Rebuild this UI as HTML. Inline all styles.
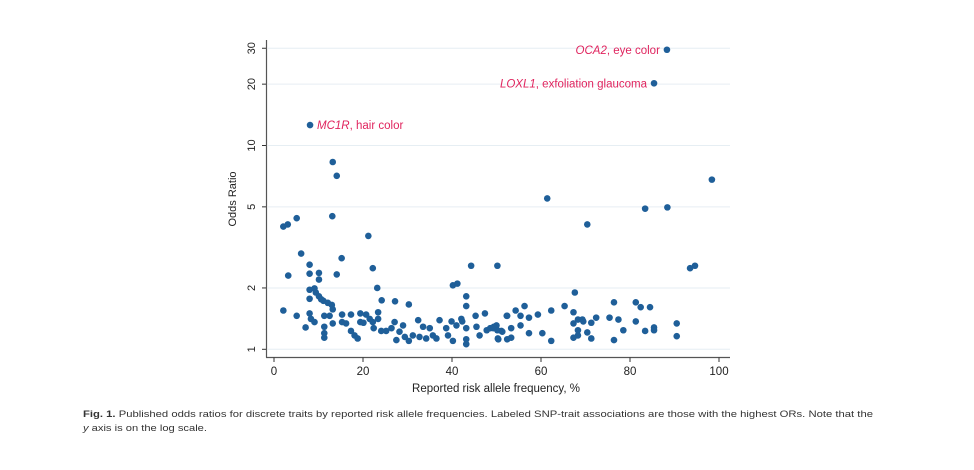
<!DOCTYPE html>
<html><head><meta charset="utf-8"><style>
html,body{margin:0;padding:0;background:#fff;}
svg{display:block;font-family:"Liberation Sans",sans-serif;}
</style></head><body>
<svg id="chart" width="974" height="470" viewBox="0 0 974 470" xmlns="http://www.w3.org/2000/svg">
<g id="grid"></g>
<g id="axes"></g>
<g id="points"></g>
<g id="labels"></g>
<text x="236" y="199" font-size="11" text-anchor="middle" transform="rotate(-90 236 199)" fill="#222">Odds Ratio</text>
<text x="496" y="392" font-size="11.5" text-anchor="middle" fill="#222">Reported risk allele frequency, %</text>
<text x="83" y="417" font-size="9.5" fill="#333" textLength="790" lengthAdjust="spacingAndGlyphs"><tspan font-weight="bold">Fig. 1.</tspan>   Published odds ratios for discrete traits by reported risk allele frequencies. Labeled SNP-trait associations are those with the highest ORs. Note that the</text>
<text x="83" y="431" font-size="9.5" fill="#333" textLength="124" lengthAdjust="spacingAndGlyphs"><tspan font-style="italic">y</tspan> axis is on the log scale.</text>
</svg>
<script>
const freqs = [88.3,85.4,8.1,13.2,14.1,13.1,2.1,3.1,5.1,21.2,6.1,15.2,8.0,3.2,8.0,10.1,10.1,14.1,22.2,23.2,24.2,27.2,30.3,2.1,5.1,7.1,
8.0,9.1,8.0,9.4,10.1,10.6,11.1,12.1,13.0,13.2,
8.0,8.3,9.1,11.3,11.3,11.3,11.3,12.5,13.2,15.3,15.3,16.2,17.3,17.3,18.1,18.8,19.4,19.4,20.1,20.7,21.5,22.2,22.4,23.4,23.4,24.1,25.2,26.4,27.1,27.5,28.2,29.0,29.4,30.3,31.2,32.4,32.7,33.5,34.2,35.0,35.7,36.5,37.2,38.7,39.1,39.9,40.2,41.0,42.1,42.3,43.2,43.2,43.2,43.2,45.3,45.5,46.2,47.4,47.8,49.3,50.0,50.4,52.3,51.1,
40.2,41.2,43.2,44.3,50.2,
61.4,70.4,83.4,88.4,98.4,93.5,94.6,67.6,
48.6,49.4,50.2,50.3,51.3,52.4,52.4,53.3,53.3,54.3,55.4,55.4,56.3,57.3,57.3,59.3,60.3,62.3,62.3,65.3,67.3,67.3,68.3,68.3,68.3,67.3,69.3,69.5,70.4,71.3,71.3,72.4,75.4,76.4,76.4,77.4,78.5,81.3,81.3,82.4,83.4,84.5,85.4,85.4,90.5,90.5];
const oddsRatios = [29.5,20.2,12.6,8.3,7.1,4.5,4.0,4.1,4.4,3.6,2.95,2.8,2.6,2.3,2.35,2.37,2.2,2.33,2.5,2.0,1.74,1.72,1.66,1.55,1.46,1.28,
1.96,1.99,1.77,1.9,1.82,1.76,1.73,1.69,1.65,1.57,
1.5,1.41,1.36,1.46,1.29,1.2,1.14,1.46,1.34,1.48,1.36,1.34,1.48,1.23,1.17,1.13,1.5,1.36,1.35,1.48,1.41,1.36,1.27,1.52,1.41,1.23,1.23,1.27,1.36,1.11,1.22,1.31,1.15,1.10,1.17,1.39,1.15,1.29,1.13,1.27,1.17,1.13,1.39,1.27,1.17,1.37,1.10,1.31,1.41,1.37,1.63,1.27,1.12,1.06,1.46,1.29,1.17,1.50,1.24,1.27,1.31,1.12,1.46,1.23,
2.06,2.1,1.82,2.57,2.57,
5.5,4.1,4.9,4.97,6.8,2.5,2.57,1.9,
1.27,1.29,1.24,1.13,1.22,1.46,1.12,1.27,1.14,1.55,1.46,1.31,1.63,1.20,1.43,1.48,1.20,1.55,1.10,1.63,1.52,1.34,1.40,1.24,1.17,1.14,1.40,1.37,1.21,1.13,1.35,1.43,1.43,1.70,1.11,1.40,1.24,1.70,1.37,1.61,1.23,1.61,1.28,1.24,1.34,1.16];
const xTicks = [0,20,40,60,80,100];
const yTicks = [1,2,5,10,20,30];
const labelTexts = [["OCA2"," eye color"],["LOXL1"," exfoliation glaucoma"],["MC1R"," hair color"]];
const labelIdx = [0,1,2];
const labelSide = ["left","left","right"];

const NS="http://www.w3.org/2000/svg";
const X0=274, XS=4.45, Y0=349.3, YS=203.8;
const xS=v=>X0+v*XS;
const yS=v=>Y0-Math.log10(v)*YS;
function mk(tag,attrs,parent){const e=document.createElementNS(NS,tag);for(const k in attrs)e.setAttribute(k,attrs[k]);parent.appendChild(e);return e;}
const grid=document.getElementById('grid'),axes=document.getElementById('axes'),pts=document.getElementById('points'),lbl=document.getElementById('labels');
yTicks.forEach(t=>{
  const g=mk('line',{x1:268,x2:730,y1:yS(t),y2:yS(t),stroke:'#e6eef3','stroke-width':1},grid);
  
  
  const tk=mk('line',{x1:262,x2:266.5,y1:yS(t),y2:yS(t),stroke:'#333','stroke-width':1},axes);
  
  
  const yy=yS(t);
  const tx=mk('text',{x:255,y:yy,'font-size':11,'text-anchor':'middle',fill:'#222',transform:'rotate(-90 255 '+yy+')'},axes);
  tx.textContent=t;
  
  
});
const ya=mk('line',{x1:266.5,x2:266.5,y1:40,y2:357.5,stroke:'#555','stroke-width':1.2},axes);


const xa=mk('line',{x1:266,x2:730,y1:357.5,y2:357.5,stroke:'#555','stroke-width':1.2},axes);


xTicks.forEach(t=>{
  const tk=mk('line',{x1:xS(t),x2:xS(t),y1:357.5,y2:362,stroke:'#333','stroke-width':1},axes);
  
  
  const tx=mk('text',{x:xS(t),y:375,'font-size':11.5,'text-anchor':'middle',fill:'#222'},axes);
  tx.textContent=t;
  
  
});
freqs.forEach((f,i)=>{
  const c=mk('circle',{cx:xS(f),cy:yS(oddsRatios[i]),r:3.3,fill:'#1f5f99'},pts);
  
  
});
labelIdx.forEach((pi,j)=>{
  const left=labelSide[j]==='left';
  const x=xS(freqs[pi])+(left?-7:7), y=yS(oddsRatios[pi])+4;
  const t=mk('text',{x:x,y:y,'font-size':11.5,fill:'#e0245e','text-anchor':left?'end':'start'},lbl);
  
  
  const a=mk('tspan',{'font-style':'italic'},t);a.textContent=labelTexts[j][0];
  const b=mk('tspan',{},t);b.textContent=','+labelTexts[j][1];
});
</script>
</body></html>
